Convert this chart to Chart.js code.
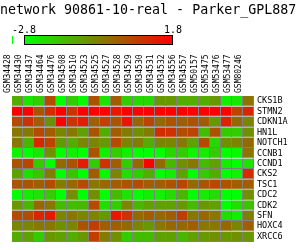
<!DOCTYPE html>
<html>
<head>
<meta charset="utf-8">
<script src="https://cdn.jsdelivr.net/npm/chart.js@4"></script>
<style>
  html, body { margin: 0; padding: 0; background: #fff; }
  #wrap { width: 300px; height: 250px; }
</style>
</head>
<body>
<div id="wrap"><canvas id="heatmap" width="300" height="250"></canvas></div>
<script>
const titleText = "network 90861-10-real - Parker_GPL887";
const scaleMin = -2.8;
const scaleMax = 1.8;
const scaleLabels = ["-2.8", "1.8"];

const samples = [
  "GSM34428", "GSM34430", "GSM34437", "GSM34464", "GSM34476", "GSM34508",
  "GSM34510", "GSM34523", "GSM34525", "GSM34527", "GSM34528", "GSM34529",
  "GSM34530", "GSM34531", "GSM34532", "GSM34556", "GSM34557", "GSM50157",
  "GSM53475", "GSM53476", "GSM53477", "GSM80246",
];

const genes = [
  "CKS1B", "STMN2", "CDKN1A", "HN1L", "NOTCH1", "CCNB1", "CCND1",
  "CKS2", "TSC1", "CDC2", "CDK2", "SFN", "HOXC4", "XRCC6",
];

// one row of expression values per gene, in sample order
const cks1b  = [-1.3, -2.3, -1.9, 0.45, -2.8, -1.9, -2.7, 0.3, -2.3, 0.1, -1.9, -2.1, -2.1, -0.95, -0.95, -1.3, -1.3, -1.3, -0.95, -2.5, -2.4, -0.3];
const stmn2  = [1.8, 1.8, 0.3, 1.0, 1.8, 0.9, 1.8, 1.8, 1.8, 1.4, 1.8, 1.8, 1.8, 1.8, 1.8, 1.8, 1.8, 1.8, 1.8, 1.8, 0.6, 1.1];
const cdkn1a = [0.45, 0.9, 0.1, -0.8, 1.8, 0.9, 1.25, 0.05, 0.6, 0.3, 1.4, -0.1, 0.6, -0.1, 0.3, 0.1, 0.3, 0.1, -0.95, 1.1, -0.1, -0.6];
const hn1l   = [-0.35, -0.35, 0.45, 0.1, -0.6, -0.35, -1.1, 0.3, -1.3, 0.1, -0.45, -0.8, -0.45, 1.0, 0.9, 0.45, 0.6, -1.6, 0.3, -1.9, -1.9, -0.8];
const notch1 = [-0.35, -1.5, 1.1, 0.6, -0.95, -1.3, -0.6, -0.6, -0.95, 0.45, -0.6, -0.45, -1.3, -0.6, -0.6, -0.35, -1.1, 0.45, -2.1, -0.8, -0.6, -0.1];
const ccnb1  = [-2.6, -2.8, -2.3, -0.8, -2.8, -2.5, -2.8, 0.3, -2.5, -1.9, -2.5, -2.8, -2.8, -2.8, -2.1, -1.9, -2.6, -2.5, -1.9, -2.8, -2.7, -0.3];
const ccnd1  = [0.3, 0.6, -1.9, -2.8, -0.1, 0.3, 1.25, -1.9, 0.9, 0.1, -1.9, -0.1, 1.8, -0.1, -1.5, -0.8, -0.35, -1.6, -1.1, -2.5, -2.8, -2.3];
const cks2   = [-1.1, -2.2, -1.7, -0.45, -2.8, -1.7, -2.8, 0.1, -2.6, -0.6, -2.2, -1.9, -1.3, -2.8, -2.5, -1.1, -2.8, -1.9, -1.3, -2.8, -2.6, 1.0];
const tsc1   = [0.3, 0.3, 0.1, 0.45, -0.45, -0.1, 0.45, -0.35, -0.1, 0.1, 0.3, 0.45, 0.1, 0.1, 0.3, 0.6, -0.1, 0.3, 0.5, 0.3, 0.1, 0.1];
const cdc2   = [-2.8, -2.5, -2.3, -1.9, -2.8, -0.8, -2.8, -0.8, -2.8, -1.6, -2.3, -2.8, -2.5, -2.6, -2.2, -1.5, -2.8, -2.5, -2.2, -2.8, -2.8, -0.8];
const cdk2   = [-0.95, -1.5, -0.1, -0.35, -1.6, -1.6, -1.5, 0.45, -2.2, -1.9, -0.6, -1.5, -1.1, -1.1, -1.1, -0.95, -1.6, -0.95, -1.1, -2.8, -2.2, -1.7];
const sfn    = [0.45, 0.45, 1.1, 1.35, -0.6, -0.35, -0.6, -0.6, -0.95, 1.35, 0.9, -0.1, 0.1, -0.1, 0.1, 0.75, -0.35, -0.1, -0.35, -2.2, -2.5, -0.45];
const hoxc4  = [-0.6, -0.6, -0.35, -0.35, -0.8, -0.6, 0.3, 0.7, 0.1, 0.1, -0.1, -0.6, -0.95, -0.35, -0.1, -0.1, 0.1, -0.35, -0.35, -0.1, -0.6, 0.1];
const xrcc6  = [-1.3, -1.1, -1.9, -0.95, -1.1, -1.3, -0.95, 0.7, -0.45, -0.8, -1.9, -1.6, -1.6, -1.1, -1.1, -1.5, -1.1, -0.95, -0.8, -0.95, -0.8, -0.95];

const rows = [cks1b, stmn2, cdkn1a, hn1l, notch1, ccnb1, ccnd1, cks2, tsc1, cdc2, cdk2, sfn, hoxc4, xrcc6];

const gridColor = "#808080";
const mono = "'DejaVu Sans Mono', monospace";

function colorFor(v) {
  let t = (v - scaleMin) / (scaleMax - scaleMin);
  t = Math.max(0, Math.min(1, t));
  return `rgb(${Math.round(255 * t)},${Math.round(255 * (1 - t))},0)`;
}

// title + colour scale drawn above the column labels
const heatmapDecor = {
  id: "heatmapDecor",
  afterDraw(chart) {
    const ctx = chart.ctx;
    ctx.save();
    ctx.fillStyle = "#000";
    ctx.font = "13.3px " + mono;
    ctx.textAlign = "left";
    ctx.textBaseline = "alphabetic";
    ctx.fillText(titleText, 0, 14);

    const x0 = 25, x1 = 172, y0 = 36, h = 8;
    const grad = ctx.createLinearGradient(x0, 0, x1, 0);
    grad.addColorStop(0, colorFor(scaleMin));
    grad.addColorStop(1, colorFor(scaleMax));
    ctx.fillStyle = grad;
    ctx.fillRect(x0, y0, x1 - x0, h);
    ctx.strokeStyle = "#000";
    ctx.lineWidth = 1;
    ctx.strokeRect(x0 - 0.5, y0 - 0.5, x1 - x0 + 1, h + 1);

    ctx.fillStyle = colorFor(scaleMin);
    ctx.fillRect(12, y0, 1, h);

    ctx.fillStyle = "#000";
    ctx.font = "10px " + mono;
    ctx.textAlign = "center";
    ctx.fillText(scaleLabels[0], x0 - 1, 33);
    ctx.fillText(scaleLabels[1], x1 + 1, 33);
    ctx.restore();
  },
};

new Chart(document.getElementById("heatmap"), {
  type: "bar",
  data: {
    labels: samples,
    datasets: rows.map((vals, r) => ({
      label: genes[r],
      data: vals.map(() => [r, r + 1]),
      backgroundColor: vals.map(colorFor),
      borderColor: gridColor,
      borderWidth: { top: 0, left: 0, right: 1, bottom: 1 },
      borderSkipped: false,
      grouped: false,
      barPercentage: 1,
      categoryPercentage: 1,
      inflateAmount: 0,
    })),
  },
  options: {
    responsive: false,
    animation: false,
    events: [],
    layout: { padding: { left: 12, top: 0, right: 0, bottom: 0 } },
    plugins: {
      legend: { display: false },
      title: { display: false },
      tooltip: { enabled: false },
    },
    scales: {
      x: {
        position: "top",
        grid: { display: false, drawTicks: false },
        border: { display: false },
        ticks: {
          autoSkip: false,
          maxRotation: 90,
          minRotation: 90,
          padding: 3,
          color: "#000",
          font: { family: mono, size: 8 },
        },
        afterFit: (s) => { s.height = 96; },
      },
      y: {
        display: false,
        min: 0,
        max: genes.length,
        reverse: true,
      },
      genes: {
        type: "category",
        labels: genes,
        position: "right",
        offset: true,
        grid: { display: false, drawTicks: false },
        border: { display: false },
        ticks: {
          autoSkip: false,
          padding: 3,
          color: "#000",
          font: { family: mono, size: 8.5 },
        },
        afterFit: (s) => { s.width = 46; },
      },
    },
  },
  plugins: [heatmapDecor],
});
</script>
</body>
</html>
